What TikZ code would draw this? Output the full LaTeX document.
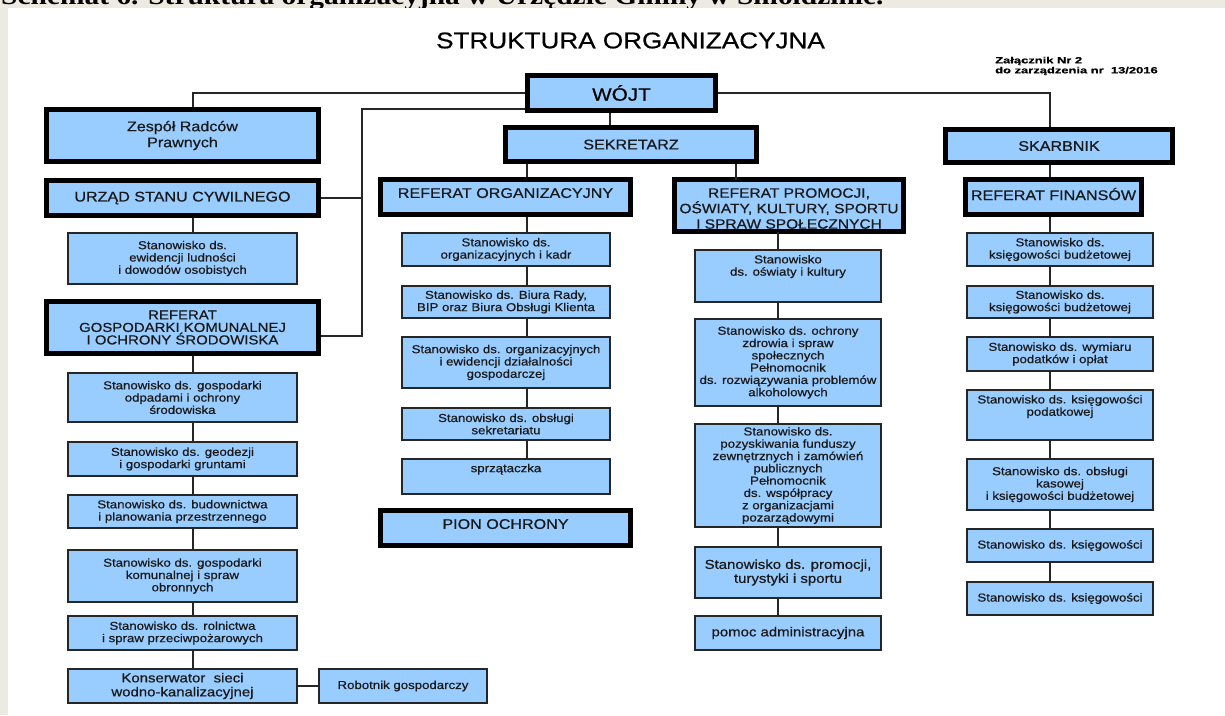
\documentclass[tikz,border=0pt]{standalone}
\usepackage{fontspec}
\usepackage{graphicx}
\setmainfont{Liberation Sans}[FakeStretch=1.15,FakeBold=0.6]
\newfontfamily\capserif{Liberation Serif}[FakeStretch=1.15]
\definecolor{boxblue}{HTML}{99CCFF}
\definecolor{paper}{HTML}{EDEAE1}
\definecolor{edge}{HTML}{262626}
\tikzset{
  conn/.style={draw=edge, line width=1.6pt},
  tb/.style n args={4}{draw=black, line width=5pt, fill=boxblue, inner sep=0pt, align=center,
     minimum width={#3-#1-5}, minimum height={#4-#2-5}, at={({(#1+#3)/2},{(#2+#4)/2})}},
  sb/.style n args={4}{draw=edge, line width=1.8pt, fill=boxblue, inner sep=0pt, align=center,
     minimum width={#3-#1-1.8}, minimum height={#4-#2-1.8}, at={({(#1+#3)/2},{(#2+#4)/2})}},
  fs/.style={font=\fontsize{11.5}{12.3}\selectfont, text=black!90},
  fm/.style={font=\fontsize{13}{14}\selectfont, text=black!90},
  fg/.style={font=\fontsize{13}{12.5}\selectfont, text=black!90},
  fh/.style={font=\fontsize{14}{16}\selectfont, text=black!90},
}
\begin{document}
\begin{tikzpicture}[x=1pt,y=-1pt]
\useasboundingbox (0,0) rectangle (1225,715);
% page background
\fill[paper] (0,0) rectangle (1225,715);
\begin{scope}
  \clip (0,0) rectangle (1225,8);
  \node[anchor=base west, inner sep=0pt, font={\capserif\bfseries\fontsize{25.6}{28}\selectfont}] (caption) at (1,4.5)
    {Schemat 6. Struktura organizacyjna w Urzędzie Gminy w Smołdzinie.};
\end{scope}
\fill[white] (8,8) rectangle (1225,715);

% headings
\node[font=\fontsize{22.7}{26}\selectfont, inner sep=0pt] (title) at (630.5,40.5) {STRUKTURA ORGANIZACYJNA};
\node[anchor=west, inner sep=0pt, font=\fontsize{9}{10}\selectfont\bfseries] (zal1) at (995,61) {\scalebox{1.25}[1]{Załącznik Nr 2}};
\node[anchor=west, inner sep=0pt, font=\fontsize{9}{10}\selectfont\bfseries] (zal2) at (995,71) {\scalebox{1.25}[1]{do zarządzenia nr~ 13/2016}};

% top level
\node[tb={525}{73}{718}{113}, font=\fontsize{18}{20}\selectfont] (wojt) {WÓJT};
\node[tb={503}{125}{759}{164}, fh] (sekretarz) {SEKRETARZ};
\node[tb={943}{127}{1175}{165}, fh] (skarbnik) {SKARBNIK};

% left column
\node[tb={44}{107}{321}{164}, fh] (zespol) {Zespół Radców\\Prawnych};
\node[tb={44}{178}{321}{218}, fh] (usc) {URZĄD STANU CYWILNEGO};
\node[sb={67}{232}{298}{285}, fs] (ewid) {Stanowisko ds.\\ewidencji ludności\\i dowodów osobistych};
\node[tb={44}{299}{321}{356}, fg] (refgosp) {REFERAT\\GOSPODARKI KOMUNALNEJ\\I OCHRONY ŚRODOWISKA};
\node[sb={67}{372}{298}{423}, fs] (odpady) {Stanowisko ds. gospodarki\\odpadami i ochrony\\środowiska};
\node[sb={67}{441}{298}{477}, fs] (geod) {Stanowisko ds. geodezji\\i gospodarki gruntami};
\node[sb={67}{494}{298}{529}, fs] (budow) {Stanowisko ds. budownictwa\\i planowania przestrzennego};
\node[sb={67}{549}{298}{603}, fs] (komun) {Stanowisko ds. gospodarki\\komunalnej i spraw\\obronnych};
\node[sb={67}{615}{298}{651}, fs] (roln) {Stanowisko ds. rolnictwa\\i spraw przeciwpożarowych};
\node[sb={67}{668}{298}{704}, fm] (konserw) {Konserwator\ \ sieci\\wodno-kanalizacyjnej};
\node[sb={318}{668}{488}{704}, fs] (robot) {Robotnik gospodarczy};

% middle column
\node[tb={378}{177}{633}{217}, fh, text depth=8pt] (reforg) {REFERAT ORGANIZACYJNY};
\node[sb={401}{232}{611}{267}, fs] (kadr) {Stanowisko ds.\\organizacyjnych i kadr};
\node[sb={401}{285}{611}{319}, fs] (biura) {Stanowisko ds. Biura Rady,\\BIP oraz Biura Obsługi Klienta};
\node[sb={401}{336}{611}{389}, fs] (ewiddz) {Stanowisko ds. organizacyjnych\\i ewidencji działalności\\gospodarczej};
\node[sb={401}{407}{611}{441}, fs] (sekr) {Stanowisko ds. obsługi\\sekretariatu};
\node[sb={401}{458}{611}{495}, fs, text depth=17pt] (sprz) {sprzątaczka};
\node[tb={378}{508}{633}{548}, fh, text depth=8pt] (pion) {PION OCHRONY};

% promotion column
\node[tb={672}{177}{906}{234}, draw=none, outer sep=0pt, font=\fontsize{13.5}{15.5}\selectfont, text=black!90] (refprom)
  {\mbox{}\\\makebox[0pt]{REFERAT PROMOCJI,}\\\makebox[0pt]{OŚWIATY, KULTURY, SPORTU}\\\makebox[0pt]{I SPRAW SPOŁECZNYCH}};
\draw[draw=black, line width=5pt] (refprom.south west) rectangle (refprom.north east);
\node[sb={694}{249}{882}{303}, fs] (oswiata) {Stanowisko\\ds. oświaty i kultury\\[9pt]\mbox{}};
\node[sb={694}{318}{882}{407}, fs] (zdrowie) {Stanowisko ds. ochrony\\zdrowia i spraw\\społecznych\\Pełnomocnik\\ds. rozwiązywania problemów\\alkoholowych};
\node[sb={694}{423}{882}{528}, fs] (pozysk) {Stanowisko ds.\\pozyskiwania funduszy\\zewnętrznych i zamówień\\publicznych\\Pełnomocnik\\ds. współpracy\\z organizacjami\\pozarządowymi};
\node[sb={694}{546}{882}{599}, fm] (promo) {Stanowisko ds. promocji,\\turystyki i sportu};
\node[sb={694}{615}{882}{651}, fm] (pomoc) {pomoc administracyjna};

% finance column
\node[tb={963}{177}{1144}{217}, fh, text depth=6pt] (reffin) {REFERAT FINANSÓW};
\node[sb={966}{232}{1154}{267}, fs] (f1) {Stanowisko ds.\\księgowości budżetowej};
\node[sb={966}{285}{1154}{319}, fs] (f2) {Stanowisko ds.\\księgowości budżetowej};
\node[sb={966}{336}{1154}{372}, fs] (f3) {Stanowisko ds. wymiaru\\podatków i opłat};
\node[sb={966}{389}{1154}{441}, fs] (f4) {Stanowisko ds. księgowości\\podatkowej\\[7pt]\mbox{}};
\node[sb={966}{458}{1154}{511}, fs] (f5) {Stanowisko ds. obsługi\\kasowej\\i księgowości budżetowej};
\node[sb={966}{528}{1154}{563}, fs] (f6) {Stanowisko ds. księgowości};
\node[sb={966}{581}{1154}{616}, fs] (f7) {Stanowisko ds. księgowości};

% connector guide coordinates
\coordinate (lx) at (193,0);
\coordinate (bus) at (362,109);
\coordinate (sx) at (610,0);
\coordinate (mx) at (527,0);
\coordinate (px) at (736,0);
\coordinate (qx) at (778,0);
\coordinate (rx) at (1050,0);

% connectors
\draw[conn] (wojt.west) -| (lx |- zespol.north);
\draw[conn] (wojt.west |- bus) -- (bus) |- ([yshift=-8.5pt]refgosp.east);
\draw[conn] (usc.east) -- (usc.east -| bus);
\draw[conn] (sx |- wojt.south) -- (sx |- sekretarz.north);
\draw[conn] (wojt.east) -| (rx |- skarbnik.north);
\draw[conn] (mx |- sekretarz.south) -- (mx |- reforg.north);
\draw[conn] (px |- sekretarz.south) -- (px |- refprom.north);
\draw[conn] (konserw.east) -- (robot.west);
\foreach \a/\b in {usc/ewid,refgosp/odpady,odpady/geod,geod/budow,budow/komun,komun/roln,roln/konserw}
  \draw[conn] (lx |- \a.south) -- (lx |- \b.north);
\foreach \a/\b in {reforg/kadr,kadr/biura,biura/ewiddz,ewiddz/sekr,sekr/sprz}
  \draw[conn] (mx |- \a.south) -- (mx |- \b.north);
\foreach \a/\b in {refprom/oswiata,oswiata/zdrowie,zdrowie/pozysk,pozysk/promo,promo/pomoc}
  \draw[conn] (qx |- \a.south) -- (qx |- \b.north);
\foreach \a/\b in {skarbnik/reffin,reffin/f1,f1/f2,f2/f3,f3/f4,f4/f5,f5/f6,f6/f7}
  \draw[conn] (rx |- \a.south) -- (rx |- \b.north);
\end{tikzpicture}
\end{document}
